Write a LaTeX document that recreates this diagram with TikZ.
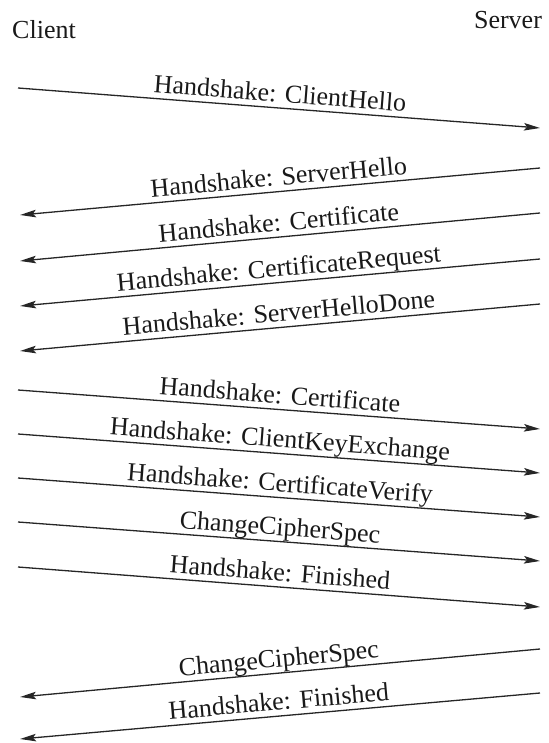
\documentclass[tikz,border=0pt]{standalone}
\usepackage{fontspec}
\setmainfont{Liberation Serif}
\usetikzlibrary{arrows.meta}
\begin{document}
\begin{tikzpicture}[x=1pt,y=1pt,
  msg/.style={draw=black!85, line width=1.3pt,
    -{Stealth[length=16pt,width=7.5pt,inset=3pt]}},
  lbl/.style={midway, sloped, anchor=base, yshift=6pt, inner sep=0pt,
    font=\fontsize{26}{30}\selectfont, text=black!90},
  party/.style={inner sep=0pt, font=\fontsize{26}{30}\selectfont, text=black!90}]
\useasboundingbox (0,0) rectangle (548,-743);

% the two parties
\node[party] (client) at (44,-30) {Client};
\node[party] (server) at (508,-20) {Server};

% message end points on the client side (c) and server side (s)
\coordinate (c1) at (18,-88);   \coordinate (s1) at (540,-128);
\coordinate (s2) at (540,-168); \coordinate (c2) at (20,-215);
\coordinate (s3) at (540,-213); \coordinate (c3) at (20,-261);
\coordinate (s4) at (540,-259); \coordinate (c4) at (20,-306);
\coordinate (s5) at (540,-304); \coordinate (c5) at (20,-351);
\coordinate (c6) at (18,-390);  \coordinate (s6) at (540,-429);
\coordinate (c7) at (18,-434);  \coordinate (s7) at (540,-473);
\coordinate (c8) at (18,-478);  \coordinate (s8) at (540,-517);
\coordinate (c9) at (18,-522);  \coordinate (s9) at (540,-561);
\coordinate (c10) at (18,-567); \coordinate (s10) at (540,-607);
\coordinate (s11) at (540,-649); \coordinate (c11) at (20,-697);
\coordinate (s12) at (540,-693); \coordinate (c12) at (20,-739);

% client hello
\draw[msg] (c1) -- node[lbl] {Handshake: ClientHello} (s1);

% server response
\draw[msg] (s2) -- node[lbl] {Handshake: ServerHello} (c2);
\draw[msg] (s3) -- node[lbl] {Handshake: Certificate} (c3);
\draw[msg] (s4) -- node[lbl] {Handshake: CertificateRequest} (c4);
\draw[msg] (s5) -- node[lbl] {Handshake: ServerHelloDone} (c5);

% client key exchange
\draw[msg] (c6) -- node[lbl] {Handshake: Certificate} (s6);
\draw[msg] (c7) -- node[lbl] {Handshake: ClientKeyExchange} (s7);
\draw[msg] (c8) -- node[lbl] {Handshake: CertificateVerify} (s8);
\draw[msg] (c9) -- node[lbl] {ChangeCipherSpec} (s9);
\draw[msg] (c10) -- node[lbl] {Handshake: Finished} (s10);

% server finish
\draw[msg] (s11) -- node[lbl] {ChangeCipherSpec} (c11);
\draw[msg] (s12) -- node[lbl] {Handshake: Finished} (c12);
\end{tikzpicture}
\end{document}
